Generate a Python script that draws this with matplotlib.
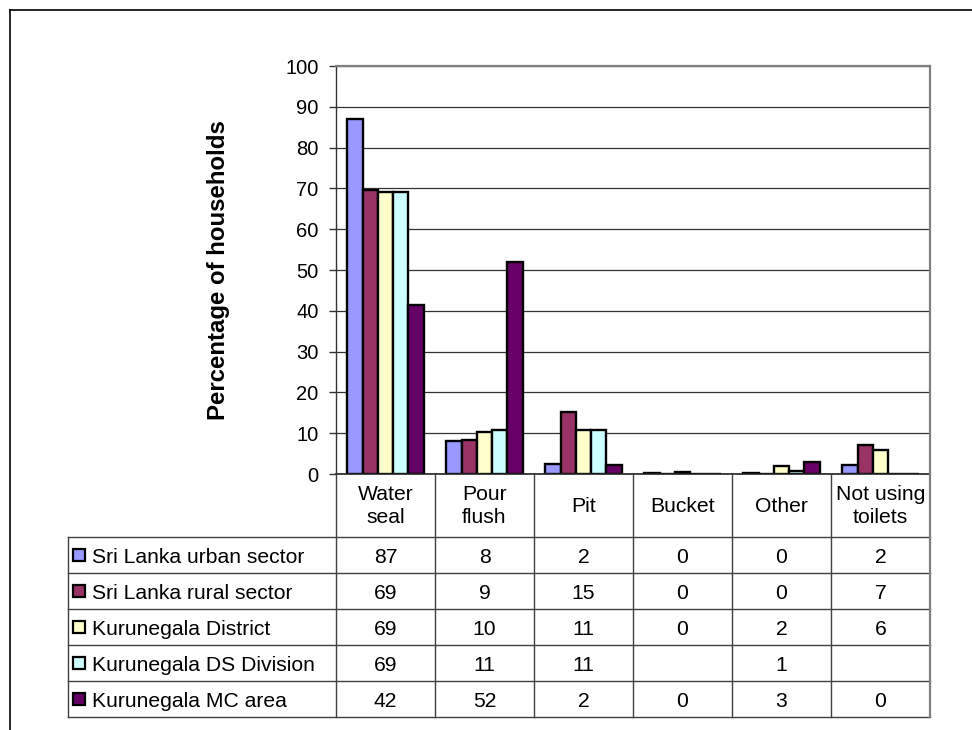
import numpy as np
import matplotlib
matplotlib.use('agg')
import matplotlib.pyplot as plt
from matplotlib.lines import Line2D

plt.rcParams['font.family'] = ['Liberation Sans', 'DejaVu Sans']

# categories along the x axis (header row of the data table)
categories = ['Water\nseal', 'Pour\nflush', 'Pit', 'Bucket', 'Other', 'Not using\ntoilets']

series_names = ['Sri Lanka urban sector',
                'Sri Lanka rural sector',
                'Kurunegala District',
                'Kurunegala DS Division',
                'Kurunegala MC area']

# bar heights (the table shows them rounded)
urban    = [87.0, 8.0, 2.5, 0.3, 0.2, 2.2]
rural    = [69.5, 8.4, 15.2, 0.0, 0.0, 7.0]
district = [69.0, 10.2, 10.8, 0.4, 1.9, 5.9]
ds_div   = [69.0, 10.8, 10.8, 0.0, 0.8, 0.0]
mc_area  = [41.5, 51.9, 2.3, 0.0, 3.0, 0.0]

# numbers printed in the data table
urban_txt    = ['87', '8', '2', '0', '0', '2']
rural_txt    = ['69', '9', '15', '0', '0', '7']
district_txt = ['69', '10', '11', '0', '2', '6']
ds_div_txt   = ['69', '11', '11', '', '1', '']
mc_area_txt  = ['42', '52', '2', '0', '3', '0']

colors = ['#9999FF', '#993366', '#FFFFCC', '#CCFFFF', '#660066']

values = [urban, rural, district, ds_div, mc_area]
table_txt = [urban_txt, rural_txt, district_txt, ds_div_txt, mc_area_txt]

W, H = 972, 730
fs = 14.5      # tick labels
tfs = 15.2     # table text
grid_col = '#333333'
edge_col = '#808080'


def plot_chart():
    fig = plt.figure(figsize=(W / 100., H / 100.), dpi=100)

    # outer chart frame (only top and left visible)
    fig.add_artist(Line2D([10. / W, 10. / W], [0, 1 - 10. / H],
                          transform=fig.transFigure, color='black', lw=1.2))
    fig.add_artist(Line2D([10. / W, 1], [1 - 10. / H, 1 - 10. / H],
                          transform=fig.transFigure, color='black', lw=1.2))

    # plot area
    ax = fig.add_axes([336. / W, 1 - 474. / H, 594. / W, 408. / H])
    n = len(categories)
    ns = len(series_names)
    x = np.arange(n)
    w = 1 / 6.5
    for i in range(ns):
        off = (i - (ns - 1) / 2.) * w
        ax.bar(x + off, values[i], width=w, color=colors[i],
               edgecolor='black', linewidth=1.7, zorder=3)

    ax.set_xlim(-0.5, n - 0.5)
    ax.set_ylim(0, 100)
    ax.set_yticks(np.arange(0, 101, 10))
    ax.set_xticks([])
    ax.yaxis.grid(True, color=grid_col, linewidth=0.9, zorder=0)
    ax.tick_params(axis='y', direction='out', length=5, width=1,
                   color=grid_col, labelsize=fs, pad=7.5)
    ax.spines['left'].set_color(grid_col)
    ax.spines['left'].set_linewidth(1)
    ax.spines['bottom'].set_color('#222222')
    ax.spines['bottom'].set_linewidth(1.2)
    ax.spines['bottom'].set_zorder(4)
    for s in ['top', 'right']:
        ax.spines[s].set_color(edge_col)
        ax.spines[s].set_linewidth(1.6)
    ax.set_ylabel('Percentage of households', fontsize=17.3, fontweight='bold')
    ax.yaxis.set_label_coords(-0.1785, 0.5)

    # data table underneath, columns line up with the categories
    leg_w = 268. / 99.
    hdr = 63. / 36.
    tax = fig.add_axes([68. / W, 1 - 717. / H, 862. / W, 243. / H])
    left = -0.5 - leg_w
    tax.set_xlim(left, n - 0.5)
    tax.set_ylim(hdr + ns, 0)
    tax.axis('off')

    for r in range(ns + 1):
        tax.plot([left, n - 0.5], [hdr + r, hdr + r], color='#404040',
                 lw=1, clip_on=False)
    tax.plot([left, left], [hdr, hdr + ns], color='#404040', lw=1, clip_on=False)
    for k in range(n):
        tax.plot([k - 0.5, k - 0.5], [0, hdr + ns], color='#404040',
                 lw=1, clip_on=False)
    tax.plot([n - 0.5, n - 0.5], [0, hdr + ns], color=edge_col,
             lw=1.6, clip_on=False)

    for k in range(n):
        tax.text(k, hdr / 2. + 0.02, categories[k], ha='center', va='center',
                 fontsize=tfs, linespacing=1.27)

    for i in range(ns):
        yb = hdr + i + 0.73
        tax.plot([left + 0.107], [hdr + i + 0.5], marker='s', markersize=9.3,
                 markerfacecolor=colors[i], markeredgecolor='black',
                 markeredgewidth=1.6, clip_on=False)
        tax.text(left + 0.242, yb, series_names[i], ha='left', va='baseline',
                 fontsize=tfs)
        for k in range(n):
            tax.text(k, yb, table_txt[i][k], ha='center', va='baseline',
                     fontsize=tfs)

    plt.savefig('out.png', dpi=100)


if __name__ == "__main__":
    plot_chart()
